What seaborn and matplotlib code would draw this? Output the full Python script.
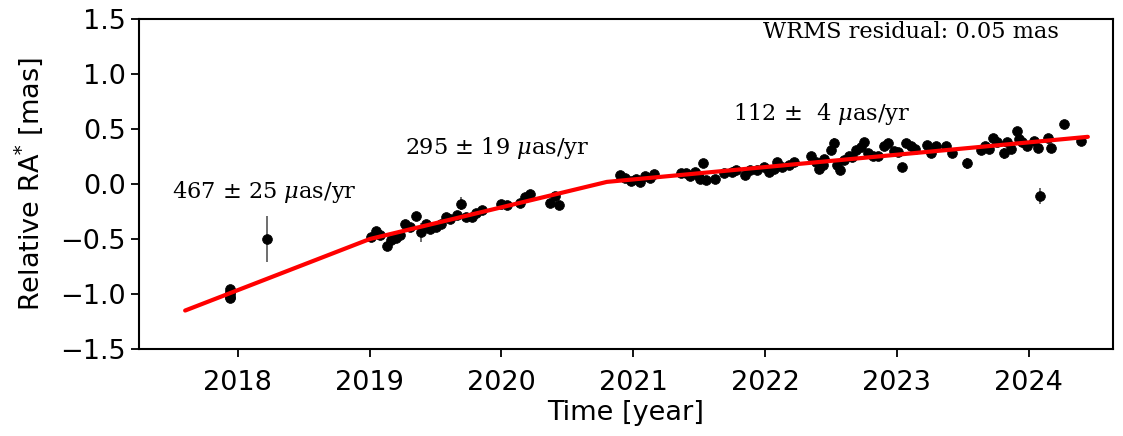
import matplotlib
matplotlib.use("Agg")
import matplotlib.pyplot as plt
import seaborn as sns
import pandas as pd
import numpy as np

# ---- data ----
years = [
    2017.94, 2017.94, 2017.94, 2017.94, 2017.94, 2018.22,
    2019.01, 2019.05, 2019.08, 2019.13, 2019.16, 2019.20, 2019.23, 2019.27,
    2019.31, 2019.35, 2019.39, 2019.43, 2019.46, 2019.50, 2019.54, 2019.58,
    2019.61, 2019.66, 2019.69, 2019.73, 2019.78, 2019.81, 2019.85, 2020.00,
    2020.04, 2020.14, 2020.18, 2020.22, 2020.37, 2020.41, 2020.44,
    2020.90, 2020.94, 2020.98, 2021.02, 2021.05, 2021.09, 2021.13, 2021.16,
    2021.36, 2021.40, 2021.43, 2021.47, 2021.49, 2021.51, 2021.53, 2021.55,
    2021.62, 2021.69, 2021.75, 2021.78, 2021.85, 2021.89, 2021.94, 2021.99,
    2022.03, 2022.07, 2022.09, 2022.13, 2022.18, 2022.22,
    2022.35, 2022.39, 2022.41, 2022.44, 2022.45, 2022.50, 2022.52, 2022.55,
    2022.57, 2022.60, 2022.64, 2022.66, 2022.69, 2022.73, 2022.75, 2022.78,
    2022.82, 2022.86, 2022.90, 2022.93, 2022.98, 2023.01, 2023.04, 2023.07,
    2023.11, 2023.14, 2023.23, 2023.26, 2023.30, 2023.37, 2023.42,
    2023.53, 2023.64, 2023.67, 2023.70, 2023.73, 2023.76, 2023.81, 2023.84,
    2023.87, 2023.91, 2023.93, 2023.95, 2023.99, 2024.04, 2024.07, 2024.09,
    2024.15, 2024.17, 2024.27, 2024.40,
]
ra_offsets = [
    -0.95, -0.98, -1.00, -1.03, -1.04, -0.50,
    -0.48, -0.43, -0.46, -0.56, -0.51, -0.49, -0.46, -0.36,
    -0.39, -0.29, -0.44, -0.36, -0.41, -0.39, -0.36, -0.30,
    -0.32, -0.28, -0.18, -0.30, -0.30, -0.26, -0.24, -0.18,
    -0.19, -0.17, -0.12, -0.09, -0.17, -0.11, -0.19,
    0.08, 0.06, 0.03, 0.05, 0.02, 0.07, 0.06, 0.09,
    0.10, 0.10, 0.07, 0.11, 0.08, 0.05, 0.19, 0.04,
    0.05, 0.10, 0.11, 0.13, 0.08, 0.13, 0.13, 0.16,
    0.11, 0.14, 0.20, 0.16, 0.17, 0.20,
    0.26, 0.20, 0.14, 0.17, 0.23, 0.31, 0.37, 0.17,
    0.13, 0.22, 0.26, 0.25, 0.31, 0.34, 0.38, 0.28,
    0.26, 0.26, 0.35, 0.37, 0.30, 0.29, 0.16, 0.37,
    0.35, 0.32, 0.36, 0.28, 0.35, 0.35, 0.28,
    0.19, 0.31, 0.35, 0.32, 0.42, 0.38, 0.28, 0.38,
    0.32, 0.48, 0.41, 0.38, 0.35, 0.39, 0.33, -0.11,
    0.42, 0.33, 0.55, 0.39,
]
ra_errors = [
    0.02, 0.02, 0.02, 0.02, 0.02, 0.21,
    0.02, 0.02, 0.02, 0.02, 0.02, 0.02, 0.02, 0.02,
    0.02, 0.02, 0.09, 0.02, 0.02, 0.03, 0.02, 0.02,
    0.02, 0.02, 0.06, 0.02, 0.02, 0.02, 0.02, 0.02,
    0.02, 0.02, 0.02, 0.02, 0.02, 0.02, 0.02,
    0.02, 0.02, 0.02, 0.02, 0.02, 0.02, 0.02, 0.02,
    0.02, 0.02, 0.02, 0.02, 0.02, 0.02, 0.03, 0.02,
    0.02, 0.02, 0.02, 0.02, 0.02, 0.02, 0.02, 0.02,
    0.02, 0.02, 0.02, 0.02, 0.02, 0.02,
    0.02, 0.02, 0.02, 0.02, 0.02, 0.02, 0.05, 0.02,
    0.02, 0.02, 0.02, 0.02, 0.02, 0.02, 0.02, 0.02,
    0.02, 0.02, 0.02, 0.02, 0.02, 0.02, 0.02, 0.02,
    0.02, 0.02, 0.02, 0.02, 0.02, 0.02, 0.02,
    0.05, 0.02, 0.02, 0.02, 0.02, 0.02, 0.05, 0.02,
    0.02, 0.02, 0.02, 0.02, 0.02, 0.02, 0.02, 0.07,
    0.02, 0.02, 0.03, 0.02,
]

fit_years = [2017.60, 2019.00, 2020.80, 2024.45]
fit_values = [-1.15, -0.50, 0.02, 0.43]

rate_labels = [r"467 $\pm$ 25 $\mu$as/yr", r"295 $\pm$ 19 $\mu$as/yr", r"112 $\pm$  4 $\mu$as/yr"]
rate_label_x = [2017.50, 2019.27, 2021.76]
rate_label_y = [-0.07, 0.325, 0.64]
wrms_text = "WRMS residual: 0.05 mas"

xticks = [2018, 2019, 2020, 2021, 2022, 2023, 2024]
yticks = [-1.5, -1.0, -0.5, 0.0, 0.5, 1.0, 1.5]

# ---- plot ----
sns.set_style("ticks")
plt.rcParams["font.family"] = ["DejaVu Sans"]
plt.rcParams["mathtext.fontset"] = "dejavuserif"
plt.rcParams["text.color"] = "black"
plt.rcParams["axes.labelcolor"] = "black"

fig = plt.figure(figsize=(11.23, 4.36), dpi=100)
ax = fig.add_axes([0.1238, 0.1995, 0.8672, 0.7565])

df = pd.DataFrame({"year": years, "ra": ra_offsets, "err": ra_errors})
fit_df = pd.DataFrame({"year": fit_years, "ra": fit_values})

ax.errorbar(df["year"], df["ra"], yerr=df["err"], fmt="none",
            ecolor="#555555", elinewidth=1.2, zorder=2)
sns.scatterplot(data=df, x="year", y="ra", ax=ax, color="black", s=50,
                edgecolor="black", linewidth=0.5, zorder=3)
sns.lineplot(data=fit_df, x="year", y="ra", ax=ax, color="red",
             linewidth=3, zorder=4)

for lab, lx, ly in zip(rate_labels, rate_label_x, rate_label_y):
    ax.text(lx, ly, lab, fontsize=16.2, family="DejaVu Serif",
            ha="left", va="center", color="black")
ax.text(0.793, 0.962, wrms_text, transform=ax.transAxes, fontsize=16.2,
        family="DejaVu Serif", ha="center", va="center", color="black")

ax.set_xlim(2017.25, 2024.64)
ax.set_ylim(-1.5, 1.5)
ax.set_xticks(xticks)
ax.set_yticks(yticks)
ax.tick_params(axis="both", labelsize=19.5, direction="out", length=6,
               width=1.3, colors="black")
ax.tick_params(axis="x", pad=9)
ax.set_xlabel("Time [year]", fontsize=19.5, color="black", labelpad=3)
ax.set_ylabel(r"Relative RA$^{*}$ [mas]", fontsize=19.5, color="black",
              labelpad=11)
for s in ax.spines.values():
    s.set_visible(True)
    s.set_linewidth(1.5)
    s.set_color("black")

fig.savefig("out.png", dpi=100)
